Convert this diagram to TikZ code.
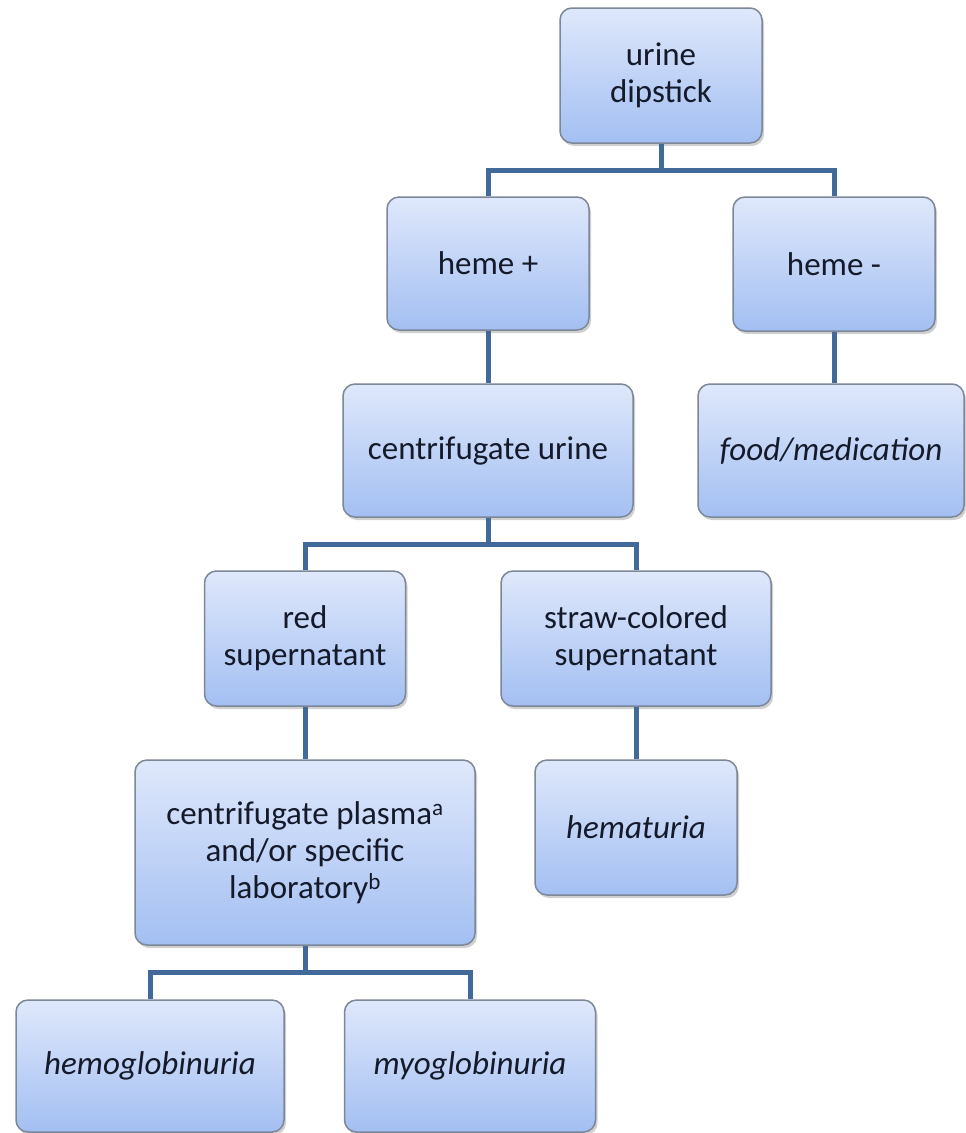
\documentclass[tikz,border=0pt]{standalone}
\usepackage{fontspec}
\setmainfont{Carlito}
\usetikzlibrary{shadows,calc}
\definecolor{boxtop}{HTML}{DFE8FB}
\definecolor{boxbot}{HTML}{A3BFF2}
\definecolor{boxline}{HTML}{7C8798}
\definecolor{connc}{HTML}{41699A}
\definecolor{txt}{HTML}{141A2A}
\begin{document}
\begin{tikzpicture}[x=1pt,y=-1pt,
  box/.style={rectangle, rounded corners=12pt, draw=boxline, line width=1.5pt,
    top color=boxtop, bottom color=boxbot, inner sep=0pt, align=center,
    text=txt, font=\fontsize{33}{37}\selectfont,
    drop shadow={shadow xshift=2pt, shadow yshift=-3pt, opacity=0.3, fill=black!60}},
  conn/.style={draw=connc, line width=5pt}]
\useasboundingbox (0,0) rectangle (966,1133);
\fill[white] (0,0) rectangle (966,1133);

\node[box, minimum width=202pt, minimum height=135pt] (dip) at (661,75.5) {urine\\dipstick};
\node[box, minimum width=202pt, minimum height=133pt] (hp) at (488,263.5) {heme +};
\node[box, minimum width=202pt, minimum height=134pt] (hm) at (834,264) {heme -};
\node[box, minimum width=290pt, minimum height=133pt] (cu) at (488,450.5) {centrifugate urine};
\node[box, minimum width=266pt, minimum height=133pt] (food) at (831,450.5) {\itshape food/medication};
\node[box, minimum width=201pt, minimum height=135pt] (red) at (305,638.5) {red\\supernatant};
\node[box, minimum width=270pt, minimum height=135pt] (straw) at (636,638.5) {straw-colored\\supernatant};
\node[box, minimum width=340pt, minimum height=185pt] (plasma) at (305,852.5) {centrifugate plasma\textsuperscript{a}\\and/or specific\\laboratory\textsuperscript{b}};
\node[box, minimum width=202pt, minimum height=135pt] (hema) at (636,827.5) {\itshape hematuria};
\node[box, minimum width=268pt, minimum height=132pt] (hemo) at (150,1066) {\itshape hemoglobinuria};
\node[box, minimum width=251pt, minimum height=132pt] (myo) at (470,1066) {\itshape myoglobinuria};

\draw[conn] (dip.south) -- ++(0,27) -| (hp.north);
\draw[conn] (dip.south) -- ++(0,27) -| (hm.north);
\draw[conn] (hp.south) -- (hp.south |- cu.north);
\draw[conn] (hm.south) -- (hm.south |- food.north);
\draw[conn] (cu.south) -- ++(0,27) -| (red.north);
\draw[conn] (cu.south) -- ++(0,27) -| (straw.north);
\draw[conn] (red.south) -- (red.south |- plasma.north);
\draw[conn] (straw.south) -- (straw.south |- hema.north);
\draw[conn] (plasma.south) -- ++(0,27) -| (hemo.north);
\draw[conn] (plasma.south) -- ++(0,27) -| (myo.north);
\end{tikzpicture}
\end{document}
